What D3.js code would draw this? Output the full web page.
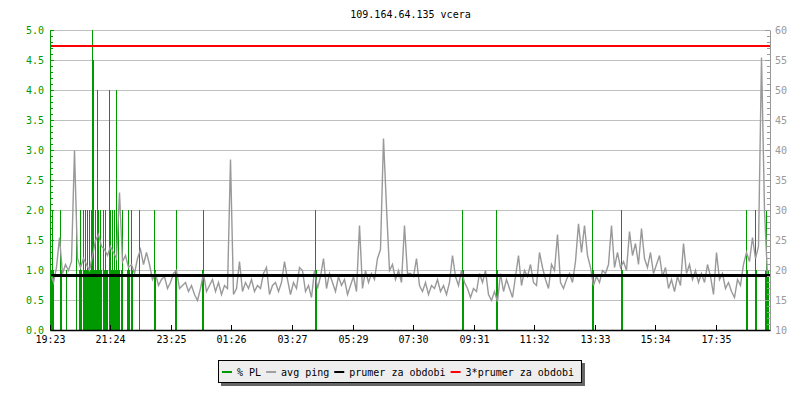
<!DOCTYPE html>
<html><head><meta charset="utf-8">
<script src="https://cdn.jsdelivr.net/npm/d3@7"></script>
<style>
body{margin:0;background:#fff}
svg text{font-family:"DejaVu Sans Mono",monospace;font-size:10px}
</style>
</head><body>
<svg id="c" width="800" height="400"></svg>
<script>
// ---------------- data ----------------
const chartTitle = "109.164.64.135 vcera";
const startClock = "19:23";
const spanMinutes = 1440;
const xTickLabels = ["19:23","21:24","23:25","01:26","03:27","05:29","07:30","09:31","11:32","13:33","15:34","17:35"];
const leftTickValues = [0,0.5,1,1.5,2,2.5,3,3.5,4,4.5,5];
const rightTickValues = [10,15,20,25,30,35,40,45,50,55,60];
const pingStepMinutes = 6;
// avg ping (ms), one value every 6 minutes
const avgPing = [
 19.5,18.0,20.5,25.5,19.5,21.0,20.0,21.5,40.0,22.0,20.5,22.0,21.0,20.0,22.5,25.0,26.0,24.0,23.5,22.5,
 24.0,23.0,22.0,33.0,21.5,22.5,20.5,21.0,19.5,22.0,23.5,21.0,23.0,21.0,18.5,19.5,17.5,18.5,19.0,17.0,
 18.0,19.5,20.0,17.0,17.5,18.0,16.5,17.5,16.0,15.0,17.0,19.5,16.5,17.5,18.5,16.5,18.0,16.0,17.5,17.0,
 38.5,16.0,17.0,21.5,16.5,18.0,17.0,18.5,16.5,17.5,17.0,19.5,20.5,16.0,17.5,18.0,16.5,18.0,21.5,18.5,
 16.0,18.0,17.0,20.5,20.0,16.5,17.5,15.5,20.0,17.0,19.0,22.0,17.0,19.5,18.0,16.5,19.0,17.5,18.5,16.0,
 17.5,19.0,16.5,27.5,17.0,20.0,18.0,19.5,18.5,22.0,23.5,42.0,30.5,20.0,21.0,18.5,20.0,18.0,27.5,19.5,
 19.5,19.0,22.0,17.5,16.5,18.0,16.0,17.5,17.0,18.5,16.5,17.5,16.0,18.0,22.5,19.0,17.5,20.0,18.0,17.0,
 15.5,17.0,16.5,19.5,18.0,20.0,16.0,15.0,16.5,14.8,19.5,16.5,18.5,17.0,15.5,19.0,22.5,17.5,20.0,19.0,
 21.0,18.0,17.5,23.0,20.5,18.5,17.0,21.0,20.0,26.0,18.0,17.0,18.5,19.5,18.0,21.5,27.8,23.0,27.5,22.5,
 20.5,17.5,19.0,18.0,20.0,19.5,21.0,27.5,20.5,23.0,20.5,21.5,20.0,26.5,22.5,24.5,21.0,27.0,22.0,20.5,
 23.0,19.5,21.0,22.5,19.0,20.5,17.0,18.5,16.5,19.0,17.5,24.5,19.5,21.0,18.5,20.0,18.0,19.5,18.0,21.0,
 19.0,16.0,23.0,18.5,19.5,17.0,18.0,16.5,15.5,18.5,17.5,21.0,23.0,21.5,25.5,22.0,24.0,55.5,30.0,19.0
];
// packet loss (%) samples: minute offset from start, value (2-minute samples)
const plMinutes = [2,4,6,20,22,32,52,58,60,62,66,68,70,72,74,76,78,80,82,84,86,88,90,92,94,96,98,100,102,106,
 108,110,112,114,118,120,122,124,126,128,130,132,134,136,138,142,144,154,156,158,162,164,178,208,210,250,252,304,306,530,
 532,824,826,892,894,1084,1086,1142,1144,1392,1394,1410,1412,1430,1432,1434,1436];
const plValues = [1,2,1,2,1,1,2,1,2,1,2,1,2,1,2,1,2,1,2,5,4.5,1,2,1,4,2,1,2,1,2,
 1,2,1,1,4,2,1,2,1,2,1,4,1,2,1,1,2,1,2,1,2,1,2,2,1,1,2,1,2,2,
 1,2,1,2,1,2,1,2,1,2,1,2,1,1,2,1,1];
const plSampleMinutes = 2;
const meanPing = 19.17;
const legendLabels = ["% PL","avg ping","prumer za obdobi","3*prumer za obdobi"];
const legendColors = ["#009900","#a0a0a0","#000000","#ff0000"];

// ---------------- drawing ----------------
const svg = d3.select("#c");
const green = "#009900", gray = "#999999", gridC = "#c0c0c0";

const x = d3.scaleLinear().domain([0, spanMinutes]).range([50, 770]);
const yL = d3.scaleLinear().domain([0, 5]).range([330, 30]);
const yR = d3.scaleLinear().domain([10, 60]).range([330, 30]);

function clockToMin(s){const [h,m]=s.split(":").map(Number);return h*60+m;}
const start = clockToMin(startClock);
const tickMinutes = xTickLabels.map(l => ((clockToMin(l) - start) + 1440) % 1440);

// title
svg.append("text").attr("x", (x.range()[0]+x.range()[1])/2 + 0.5).attr("y", 17.5)
  .attr("text-anchor","middle").attr("fill","#000").text(chartTitle);

// grid
svg.append("g").selectAll("line").data(leftTickValues.filter(v => v > 0)).join("line")
  .attr("x1", 51).attr("x2", 770)
  .attr("y1", d => yL(d)+0.5).attr("y2", d => yL(d)+0.5)
  .attr("stroke", gridC).attr("stroke-width", 1);

// PL bars
svg.append("g").selectAll("rect").data(plMinutes.map((m,i)=>({m, v: plValues[i]}))).join("rect")
  .attr("x", d => x(d.m)).attr("width", d => x(d.m + plSampleMinutes) - x(d.m))
  .attr("y", d => yL(d.v)).attr("height", d => yL(0) - yL(d.v))
  .attr("fill", green).attr("shape-rendering","crispEdges");

// avg ping line
const line = d3.line().x((d,i) => x(i*pingStepMinutes)+0.5).y(d => yR(d)+0.5);
svg.append("path").datum(avgPing).attr("d", line)
  .attr("fill","none").attr("stroke", gray).attr("stroke-width", 1.4)
  .attr("stroke-linejoin","miter");

// mean lines
svg.append("line").attr("x1", 51).attr("x2", 771)
  .attr("y1", yR(meanPing)+0.5).attr("y2", yR(meanPing)+0.5)
  .attr("stroke","#000").attr("stroke-width", 3);
svg.append("line").attr("x1", 51).attr("x2", 770)
  .attr("y1", Math.round(yR(3*meanPing))+1).attr("y2", Math.round(yR(3*meanPing))+1)
  .attr("stroke","#ff0000").attr("stroke-width", 2);

function styleAxis(g, color){
  g.attr("font-family", null).attr("font-size", null);
  g.selectAll("line").attr("stroke", color);
  g.selectAll("path").attr("stroke", color);
  g.selectAll("text").attr("fill", color);
}

// left axis
const leftMinor = d3.range(0, 51).map(k => k/10);
const gl1 = svg.append("g").attr("transform","translate(50,0)")
  .call(d3.axisRight(yL).tickValues(leftMinor).tickSizeInner(3).tickSizeOuter(0).tickFormat(""));
styleAxis(gl1, green);
const gl2 = svg.append("g").attr("transform","translate(50,0)")
  .call(d3.axisRight(yL).tickValues(leftTickValues).tickSizeInner(4).tickSizeOuter(0).tickFormat(""));
styleAxis(gl2, green); gl2.select(".domain").remove();
const gl3 = svg.append("g").attr("transform","translate(50,0)")
  .call(d3.axisLeft(yL).tickValues(leftTickValues).tickSize(0).tickPadding(6).tickFormat(d3.format(".1f")));
styleAxis(gl3, green); gl3.select(".domain").remove();

// right axis
const rightMinor = d3.range(10, 61);
const gr1 = svg.append("g").attr("transform","translate(770,0)")
  .call(d3.axisLeft(yR).tickValues(rightMinor).tickSizeInner(3).tickSizeOuter(0).tickFormat(""));
styleAxis(gr1, gray);
const gr2 = svg.append("g").attr("transform","translate(770,0)")
  .call(d3.axisLeft(yR).tickValues(rightTickValues).tickSizeInner(5).tickSizeOuter(0).tickFormat(""));
styleAxis(gr2, gray); gr2.select(".domain").remove();
const gr3 = svg.append("g").attr("transform","translate(770,0)")
  .call(d3.axisRight(yR).tickValues(rightTickValues).tickSize(0).tickPadding(5));
styleAxis(gr3, gray); gr3.select(".domain").remove();

// bottom axis
const gb = svg.append("g").attr("transform","translate(0,330)")
  .call(d3.axisBottom(x).tickValues(tickMinutes).tickSizeInner(-5).tickSizeOuter(0).tickPadding(6)
    .tickFormat((d,i) => xTickLabels[i]));
styleAxis(gb, "#000");
gb.selectAll(".tick").attr("transform", d => `translate(${Math.floor(x(d))+0.5},0)`);
gb.select(".domain").attr("stroke-width", 1.5);

// legend
const lg = svg.append("g");
const sw = 10, gapST = 5, gapTS = 5, padL = 4, padR = 7;
const items = lg.selectAll("g").data(legendLabels).join("g");
items.append("text").attr("y", 375.5).attr("fill","#000").text(d => d);
let cur = padL;
const pos = [];
items.each(function(d,i){
  const w = d3.select(this).select("text").node().getComputedTextLength();
  pos.push({sx: cur, tx: cur + sw + gapST});
  cur += sw + gapST + w + gapTS;
});
const totalW = cur - gapTS + padR;
const bx = Math.round(399 - totalW/2);
items.each(function(d,i){
  const g = d3.select(this);
  g.select("text").attr("x", bx + pos[i].tx);
  g.append("line").attr("x1", bx + pos[i].sx).attr("x2", bx + pos[i].sx + sw)
    .attr("y1", 372).attr("y2", 372).attr("stroke", legendColors[i]).attr("stroke-width", 2);
});
lg.insert("rect", ":first-child").attr("x", bx + 0.5).attr("y", 360.5).attr("width", totalW).attr("height", 22)
  .attr("fill","#eeeeee").attr("stroke","#000").attr("stroke-width",1);
lg.insert("rect", ":first-child").attr("x", bx + 3).attr("y", 363).attr("width", totalW + 1).attr("height", 23)
  .attr("fill","#666666");
</script>
</body></html>
